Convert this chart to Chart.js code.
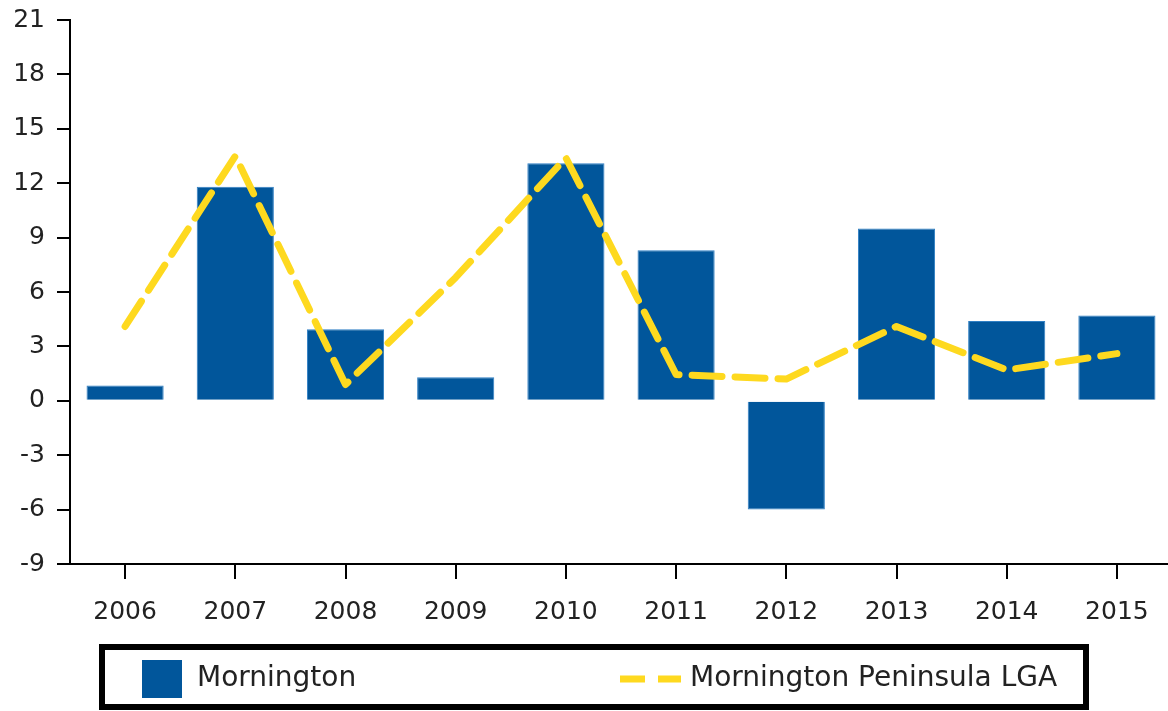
<!DOCTYPE html>
<html>
<head>
<meta charset="utf-8">
<script src="https://cdn.jsdelivr.net/npm/chart.js@4/dist/chart.umd.min.js"></script>
<style>
  html, body { margin: 0; padding: 0; background: #fff; overflow: hidden; }
  #wrap { width: 1172px; height: 711px; }
</style>
</head>
<body>
<div id="wrap"><canvas id="chart" width="1172" height="711"></canvas></div>
<script>
const years = ['2006', '2007', '2008', '2009', '2010', '2011', '2012', '2013', '2014', '2015'];
const mornington = [0.85, 11.8, 3.95, 1.3, 13.1, 8.3, -6.0, 9.5, 4.4, 4.7];
const peninsulaLGA = [4.1, 13.5, 0.9, 6.8, 13.4, 1.45, 1.2, 4.1, 1.7, 2.6];
const yTicks = [-9, -6, -3, 0, 3, 6, 9, 12, 15, 18, 21];

const barColor = '#01569b';
const lineColor = '#fed91f';
const fontFamily = '"DejaVu Sans", Verdana, sans-serif';

// legend drawn as a framed box under the axis
const boxLegend = {
    id: 'boxLegend',
    afterDraw(chart) {
        const c = chart.ctx;
        const barSet = chart.data.datasets.find((d) => d.type === 'bar');
        const lineSet = chart.data.datasets.find((d) => d.type === 'line');
        c.save();
        c.strokeStyle = '#000';
        c.lineWidth = 6;
        c.strokeRect(102, 647, 984, 60);

        const midY = 679;
        c.fillStyle = barColor;
        c.fillRect(142, 660, 40, 38);

        c.strokeStyle = lineColor;
        c.lineWidth = 7;
        c.setLineDash([25, 13]);
        c.beginPath();
        c.moveTo(620, midY);
        c.lineTo(681, midY);
        c.stroke();
        c.setLineDash([]);

        c.fillStyle = '#222';
        c.font = '28px ' + fontFamily;
        c.textBaseline = 'middle';
        c.fillText(barSet.label, 197, midY);
        c.fillText(lineSet.label, 690, midY);
        c.restore();
    }
};

const ctx = document.getElementById('chart').getContext('2d');
const chart = new Chart(ctx, {
    data: {
        labels: years,
        datasets: [
            {
                type: 'line',
                label: 'Mornington Peninsula LGA',
                data: peninsulaLGA,
                borderColor: lineColor,
                borderWidth: 7,
                borderDash: [30, 13],
                borderCapStyle: 'round',
                borderJoinStyle: 'round',
                pointRadius: 0,
                tension: 0,
                fill: false,
                order: 0,
            },
            {
                type: 'bar',
                label: 'Mornington',
                data: mornington,
                backgroundColor: barColor,
                borderColor: '#2f7fc4',
                borderWidth: 1,
                barPercentage: 0.7,
                categoryPercentage: 1,
                order: 1,
            },
        ],
    },
    options: {
        responsive: false,
        animation: false,
        layout: { padding: { top: 20, right: 0, bottom: 67, left: 0 } },
        plugins: {
            legend: { display: false },
            tooltip: { enabled: false },
        },
        scales: {
            x: {
                offset: true,
                grid: { display: true, drawOnChartArea: false, offset: false, color: '#000', lineWidth: 2, tickLength: 15 },
                border: { display: true, color: '#000', width: 2 },
                ticks: { color: '#222', font: { family: fontFamily, size: 25 }, padding: 18, maxRotation: 0 },
                afterFit(scale) {
                    scale.height = 80;
                    scale.paddingLeft = 0;
                    scale.paddingRight = 0;
                },
            },
            y: {
                min: -9,
                max: 21,
                afterBuildTicks(scale) { scale.ticks = yTicks.map((v) => ({ value: v })); },
                grid: { display: true, drawOnChartArea: false, color: '#000', lineWidth: 2, tickLength: 13 },
                border: { display: true, color: '#000', width: 2 },
                ticks: { color: '#222', font: { family: fontFamily, size: 25 }, padding: 12 },
                afterFit(scale) {
                    scale.width = 70;
                    scale.paddingTop = 0;
                    scale.paddingBottom = 0;
                },
            },
        },
    },
    plugins: [boxLegend],
});
</script>
</body>
</html>
